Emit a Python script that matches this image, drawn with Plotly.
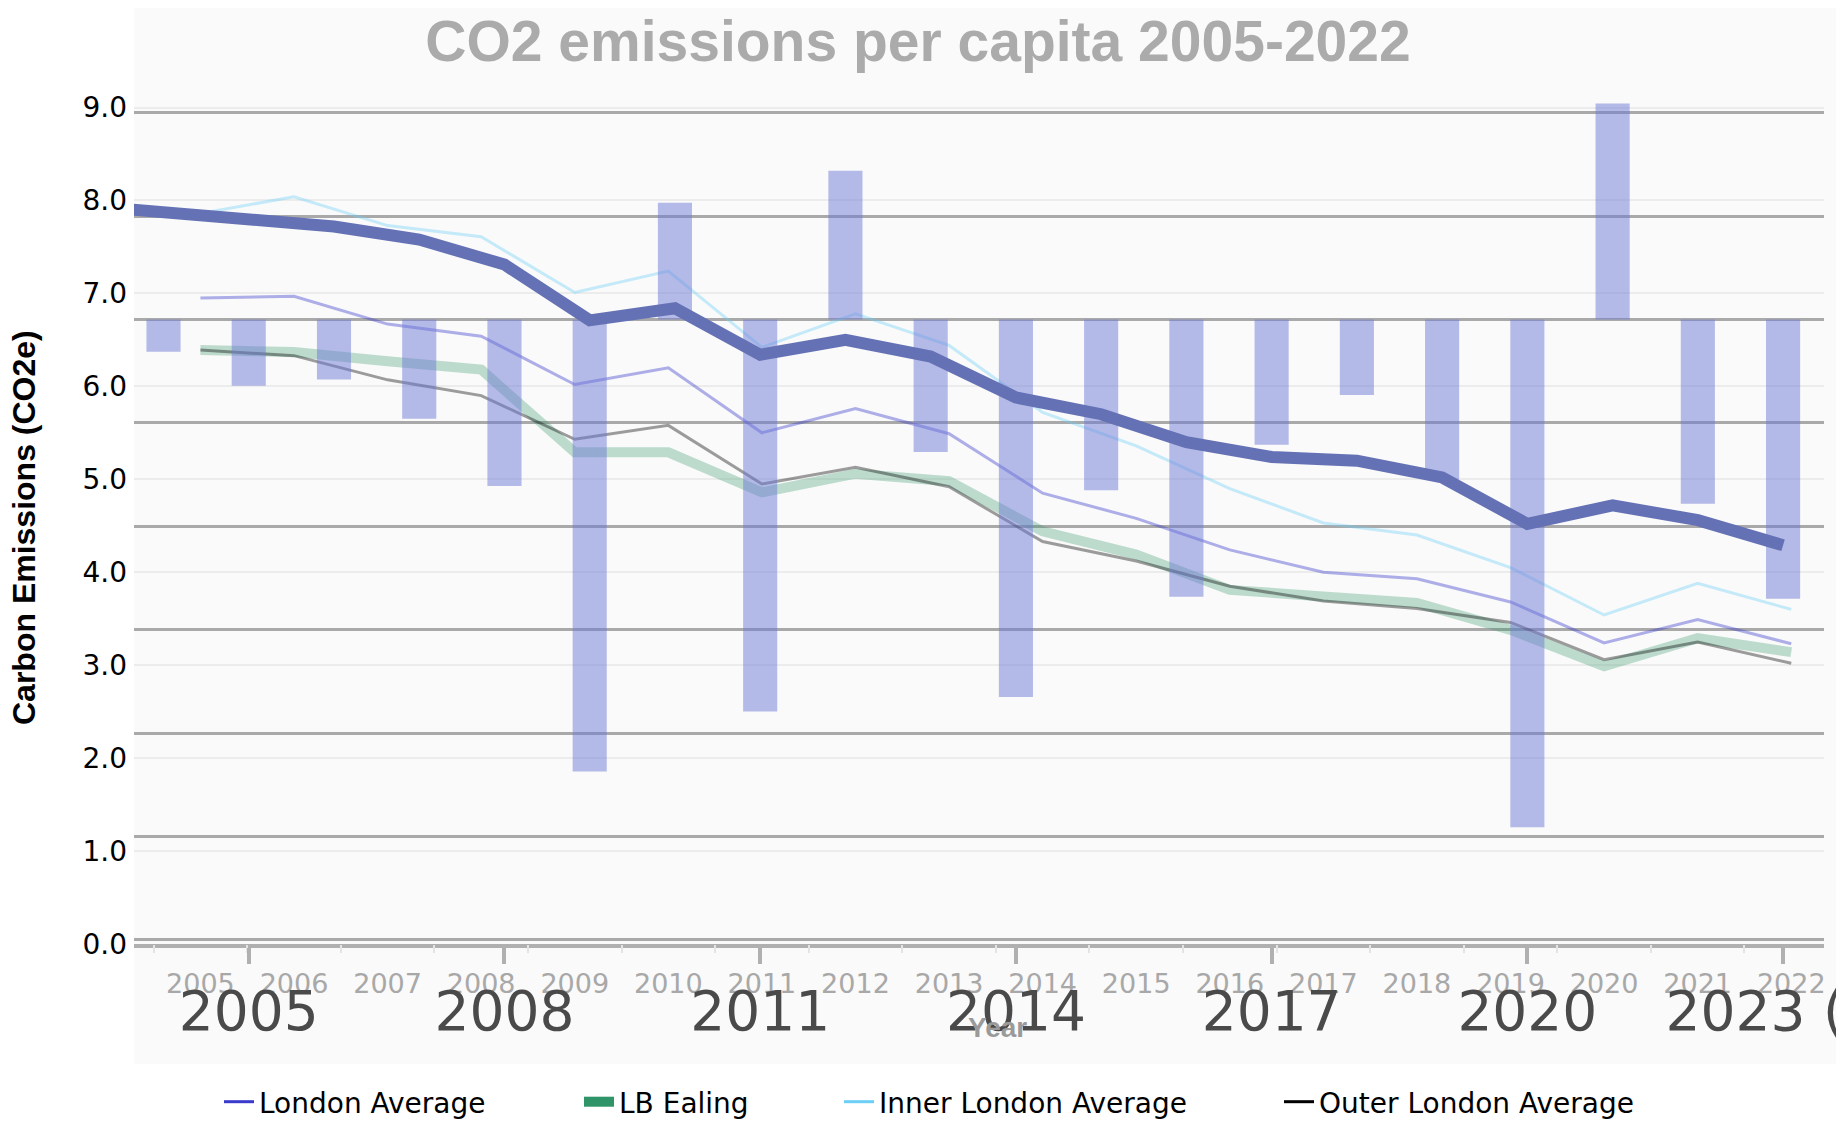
import plotly.graph_objects as go

# ---------------- data ----------------
years = [2005, 2006, 2007, 2008, 2009, 2010, 2011, 2012, 2013,
         2014, 2015, 2016, 2017, 2018, 2019, 2020, 2021, 2022]
london_avg = [6.95, 6.97, 6.67, 6.54, 6.02, 6.20, 5.50, 5.76, 5.49,
              4.85, 4.58, 4.24, 4.00, 3.93, 3.68, 3.24, 3.49, 3.23]
lb_ealing = [6.39, 6.37, 6.27, 6.18, 5.29, 5.29, 4.86, 5.06, 4.98,
             4.44, 4.19, 3.81, 3.74, 3.67, 3.38, 2.99, 3.29, 3.14]
inner_london = [7.86, 8.04, 7.73, 7.61, 7.01, 7.24, 6.42, 6.78, 6.44,
                5.72, 5.36, 4.90, 4.53, 4.40, 4.05, 3.54, 3.88, 3.60]
outer_london = [6.39, 6.33, 6.07, 5.90, 5.43, 5.58, 4.95, 5.13, 4.92,
                4.33, 4.12, 3.85, 3.69, 3.61, 3.46, 3.06, 3.25, 3.02]

# overlaid second series (own year scale)
trend_years = [2003, 2004, 2005, 2006, 2007, 2008, 2009, 2010, 2011, 2012, 2013,
               2014, 2015, 2016, 2017, 2018, 2019, 2020, 2021, 2022, 2023]
trend_vals = [7.95, 7.88, 7.81, 7.72, 7.58, 7.31, 6.71, 6.84, 6.34, 6.50, 6.32,
              5.88, 5.70, 5.40, 5.24, 5.20, 5.02, 4.52, 4.72, 4.56, 4.29]
bar_years = [2004, 2005, 2006, 2007, 2008, 2009, 2010, 2011, 2012, 2013,
             2014, 2015, 2016, 2017, 2018, 2019, 2020, 2021, 2022, 2023]
bar_changes = [-0.31, -0.64, -0.58, -0.96, -1.61, -4.37, 1.13, -3.79, 1.44, -1.28,
               -3.65, -1.65, -2.68, -1.21, -0.73, -1.55, -4.91, 2.09, -1.78, -2.70]

big_ticks = [2005, 2008, 2011, 2014, 2017, 2020, 2023]
big_tick_text = ["2005", "2008", "2011", "2014", "2017", "2020", "2023 (p)"]
y_ticks = [0, 1, 2, 3, 4, 5, 6, 7, 8, 9]

title_text = "CO2 emissions per capita 2005-2022"
y_title = "Carbon Emissions (CO2e)"
x_title = "Year"

FONT = "Liberation Sans, Arial, sans-serif"
WIDE = "DejaVu Sans, Verdana, sans-serif"

fig = go.Figure()

# thin series on primary axes (drawn translucent; legend handled by key traces)
series = [
    ("London Average", london_avg, "rgba(58,58,204,0.40)", 3),
    ("LB Ealing", lb_ealing, "rgba(46,148,104,0.30)", 10),
    ("Inner London Average", inner_london, "rgba(109,207,246,0.38)", 3),
    ("Outer London Average", outer_london, "rgba(0,0,0,0.38)", 3),
]
for name, vals, col, w in series:
    fig.add_trace(go.Scatter(x=years, y=vals, mode="lines", name=name,
                             line=dict(color=col, width=w), showlegend=False,
                             xaxis="x", yaxis="y"))

# bars of second chart
fig.add_trace(go.Bar(x=bar_years, y=bar_changes, base=0, width=0.4,
                     marker=dict(color="rgba(110,122,214,0.5)", line=dict(width=0)),
                     showlegend=False, xaxis="x2", yaxis="y2"))

# thick trend line of second chart
fig.add_trace(go.Scatter(x=trend_years, y=trend_vals, mode="lines",
                         line=dict(color="#6571b5", width=12),
                         showlegend=False, xaxis="x2", yaxis="y3"))

# legend keys, each in its own legend box (x = screen px where the text starts)
legend_cols = [("London Average", "#3a3acc", 3, "legend", 260),
               ("LB Ealing", "#2f9468", 10, "legend2", 620),
               ("Inner London Average", "#6dcff6", 3, "legend3", 880),
               ("Outer London Average", "#000000", 3, "legend4", 1320)]
for name, col, w, lg, _ in legend_cols:
    fig.add_trace(go.Scatter(x=[None], y=[None], mode="lines", name=name,
                             legend=lg, line=dict(color=col, width=w),
                             xaxis="x", yaxis="y"))

# page body margin offsets the figure by 8px
OFF = 8
W, H = 1844 - 2 * OFF, 1124
L, R, T, B = 134 - OFF, 1824 - OFF, 9 - OFF, 944 - OFF
PW, PH = R - L, B - T


def px(sx):
    return (sx - OFF - L) / PW


def py(sy):
    return (B - (sy - OFF)) / PH


legend_style = dict(orientation="h", xanchor="left", yanchor="middle",
                    y=py(1102),
                    font=dict(family=WIDE, size=28, color="black"),
                    bgcolor="rgba(0,0,0,0)", borderwidth=0)
legends = {}
for name, col, w, lg, text_x in legend_cols:
    legends[lg] = dict(legend_style, x=px(text_x - 41))

fig.update_layout(
    width=W, height=H,
    margin=dict(l=L, r=W - R, t=T, b=H - B, pad=0, autoexpand=False),
    paper_bgcolor="white", plot_bgcolor="#fafafa",
    font=dict(family=FONT, color="black"),
    title=dict(text=title_text, x=px(918), xref="paper", xanchor="center",
               y=1 - (41 - OFF) / H, yanchor="middle", automargin=False,
               font=dict(family=FONT, size=57, color="#ababab", weight="bold")),
    showlegend=True,
    barmode="overlay",
    xaxis=dict(range=[2004.29, 2022.35], tickvals=years, ticks="",
               ticklabelstandoff=21, automargin=False,
               tickfont=dict(family=WIDE, size=27, color="#a8a8a8"),
               showgrid=False, zeroline=False, showline=False,
               minor=dict(ticks="outside", tick0=2004.5, dtick=1, ticklen=8,
                          tickwidth=2, tickcolor="#e4e4e4", showgrid=False)),
    xaxis2=dict(range=[2003.654, 2023.48], overlaying="x", side="bottom",
                anchor="y", tickvals=big_ticks, ticktext=big_tick_text,
                ticks="outside", ticklen=16, automargin=False,
                tickwidth=4, tickcolor="#b0b0b0", ticklabelstandoff=0,
                ticklabeloverflow="allow",
                tickfont=dict(family=WIDE, size=55, color="#4a4a4a"),
                showgrid=False, zeroline=False, showline=True,
                linecolor="#b0b0b0", linewidth=4),
    yaxis=dict(range=[0, 10.06], tickvals=y_ticks, tickformat=".1f",
               automargin=False, ticklabelstandoff=6,
               tickfont=dict(family=WIDE, size=28, color="black"),
               showgrid=True, gridcolor="#ececec", gridwidth=2,
               zeroline=False, showline=False, ticks=""),
    yaxis2=dict(range=[-6.039, 3.004], overlaying="y", side="left", anchor="x",
                dtick=1, showticklabels=False, showgrid=True, automargin=False,
                gridcolor="#a9a9a9", gridwidth=2.5, zeroline=False,
                showline=False, ticks=""),
    yaxis3=dict(range=[0, 10.06], overlaying="y", side="left", anchor="x",
                showticklabels=False, showgrid=False, zeroline=False,
                automargin=False, showline=False, ticks=""),
    shapes=[dict(type="rect", xref="paper", yref="paper", layer="below",
                 x0=0, x1=px(1840), y0=py(1064), y1=py(0),
                 fillcolor="#fafafa", line=dict(width=0))],
    annotations=[
        dict(text=x_title, xref="paper", yref="paper", x=px(997),
             y=py(1027), showarrow=False, xanchor="center", yanchor="middle",
             font=dict(family=FONT, size=28, color="#9a9a9a", weight="bold")),
        dict(text=y_title, xref="paper", yref="paper", x=px(24),
             y=py(528), showarrow=False, textangle=-90,
             xanchor="center", yanchor="middle",
             font=dict(family=FONT, size=32, color="black", weight="bold")),
    ],
    **legends,
)

fig.write_html("out.html")
